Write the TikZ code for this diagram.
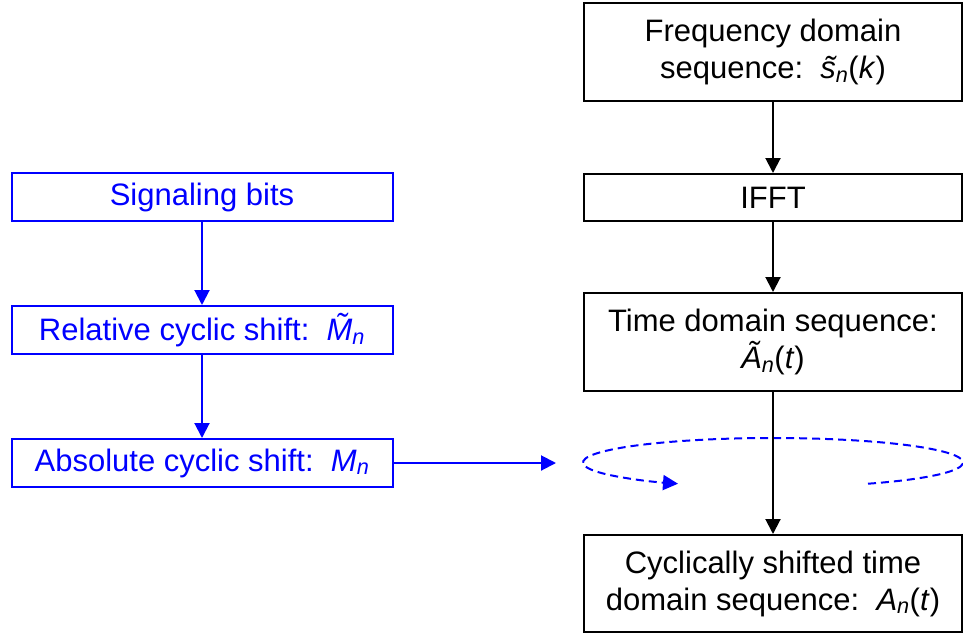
\documentclass[tikz,border=0pt]{standalone}
\usepackage{fontspec}
\setmainfont{Liberation Sans}
\usetikzlibrary{arrows.meta}
\tikzset{
  blk/.style={draw=black, line width=2pt, text=black, align=center, inner sep=0pt,
    font=\fontsize{31}{37}\selectfont, minimum width=378pt},
  bbox/.style={draw=blue, line width=2pt, text=blue, align=center, inner sep=0pt,
    font=\fontsize{31}{37}\selectfont, minimum width=381pt, minimum height=48pt},
  karrow/.style={draw=black, line width=2pt, -{Triangle[length=15pt,width=15pt]}},
  barrow/.style={draw=blue, line width=2pt, -{Triangle[length=15pt,width=15pt]}},
}
\newcommand{\tl}[1]{\textit{\~{#1}}}
\newcommand{\sbn}{\textsubscript{\textit{n}}}
\begin{document}
\begin{tikzpicture}[x=1pt,y=-1pt]
\useasboundingbox (0,0) rectangle (963,634);
\node[blk, minimum height=98pt] (freq) at (773,52) {Frequency domain\\sequence:\ \ \tl{s}\sbn(\textit{k})};
\node[blk, minimum height=47pt] (ifft) at (773,197.5) {IFFT};
\node[blk, minimum height=98pt] (time) at (773,342) {Time domain sequence:\\\tl{A}\sbn(\textit{t})};
\node[blk, minimum height=97pt] (cyc) at (773,583.5) {Cyclically shifted time\\domain sequence:\ \ \textit{A}\sbn(\textit{t})};
\node[bbox] (sig) at (202,197) {Signaling bits};
\node[bbox] (rel) at (202,330) {Relative cyclic shift:\ \ \tl{M}\sbn};
\node[bbox] (abs) at (202,463) {Absolute cyclic shift:\ \ \textit{M}\sbn};
\coordinate (ell) at (773,462.5);
\coordinate (hend) at (556,463);
\draw[karrow] (freq) -- (ifft);
\draw[karrow] (ifft) -- (time);
\draw[barrow] (sig) -- (rel);
\draw[barrow] (rel) -- (abs);
\draw[barrow] (abs) -- (hend);
\draw[blue, line width=2pt, dash pattern=on 8pt off 5pt, -{Triangle[length=15pt,width=15pt]}]
  ([shift={(-60:190pt and 24.5pt)}]ell) arc[start angle=-60, end angle=240, x radius=190pt, y radius=24.5pt];
\draw[karrow] (time) -- (cyc);
\end{tikzpicture}
\end{document}
